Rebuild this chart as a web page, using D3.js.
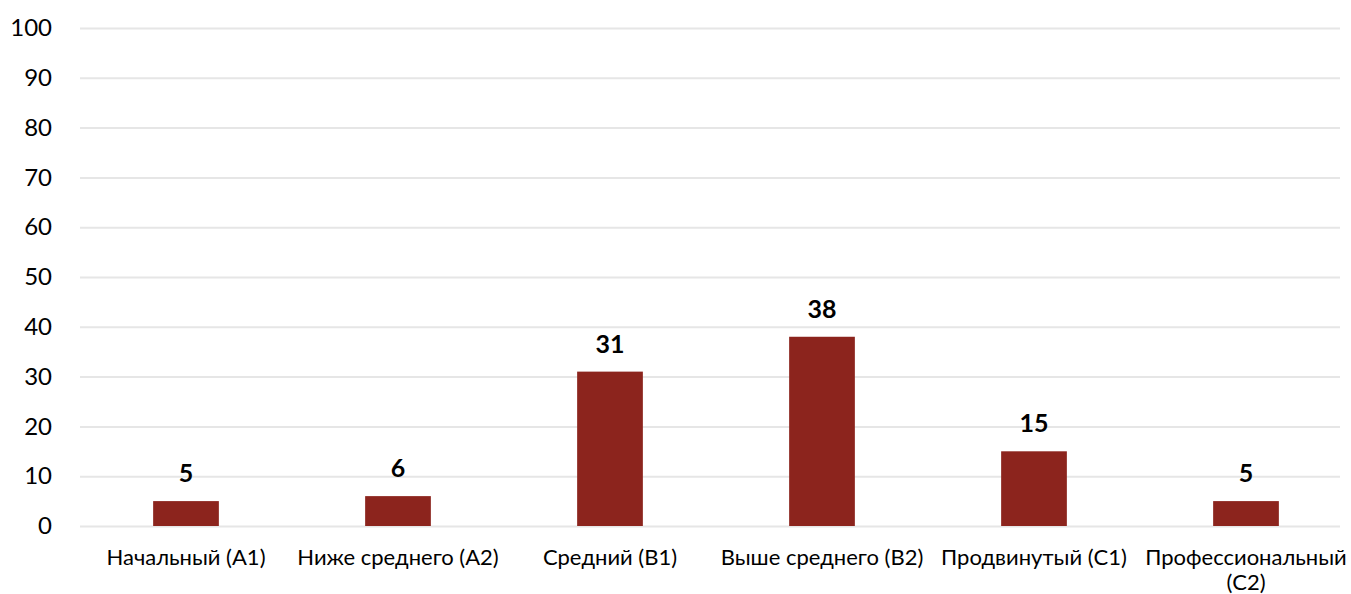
<!DOCTYPE html>
<html>
<head>
<meta charset="utf-8">
<script src="https://cdn.jsdelivr.net/npm/d3@7"></script>
<style>
  body { margin: 0; background: #fff; }
  svg { display: block; font-family: Lato, "Open Sans", sans-serif; }
</style>
</head>
<body>
<svg id="chart"></svg>
<script>
const categories = [
  ["Начальный (A1)"],
  ["Ниже среднего (A2)"],
  ["Средний (B1)"],
  ["Выше среднего (B2)"],
  ["Продвинутый (C1)"],
  ["Профессиональный", "(C2)"]
];
const values = [5, 6, 31, 38, 15, 5];
const yTicks = [0, 10, 20, 30, 40, 50, 60, 70, 80, 90, 100];

const w = 1351, h = 594;
const padL = 80, padR = 1352, padT = 28, padB = 526;

const svg = d3.select('#chart').attr('width', w).attr('height', h);

const keys = categories.map(d => d.join(' '));
const xScale = d3.scaleBand()
  .domain(keys)
  .range([padL, padR])
  .paddingInner(0.69)
  .paddingOuter(0.345);
const yScale = d3.scaleLinear().domain([0, 100]).range([padB, padT]);

// grid
const yAxis = d3.axisLeft(yScale).tickValues(yTicks).tickSize(-(1340 - padL)).tickPadding(28);
const gy = svg.append('g').attr('transform', `translate(${padL},0)`).call(yAxis);
gy.select('.domain').remove();
gy.selectAll('.tick line').attr('stroke', '#e6e6e6').attr('stroke-width', 2);
gy.selectAll('.tick text').attr('fill', '#000').style('font-size', '24px').style('font-family', 'Lato, sans-serif');

// bars
svg.selectAll('rect.bar')
  .data(values)
  .join('rect')
  .attr('class', 'bar')
  .attr('x', (d, i) => xScale(keys[i]))
  .attr('width', xScale.bandwidth())
  .attr('y', d => yScale(d))
  .attr('height', d => yScale(0) - yScale(d))
  .attr('fill', '#8c241d');

// value labels
svg.selectAll('text.val')
  .data(values)
  .join('text')
  .attr('class', 'val')
  .attr('x', (d, i) => xScale(keys[i]) + xScale.bandwidth() / 2)
  .attr('y', d => yScale(d) - 19)
  .attr('text-anchor', 'middle')
  .style('font-size', '25px')
  .style('font-weight', 'bold')
  .text(d => d);

// x axis labels
const xl = svg.selectAll('text.cat')
  .data(categories)
  .join('text')
  .attr('class', 'cat')
  .attr('x', (d, i) => xScale(keys[i]) + xScale.bandwidth() / 2)
  .attr('y', 565)
  .attr('text-anchor', 'middle')
  .style('font-size', '22px');
xl.selectAll('tspan')
  .data(d => d)
  .join('tspan')
  .attr('x', function() { return this.parentNode.getAttribute('x'); })
  .attr('dy', (d, i) => i ? 25 : 0)
  .text(d => d);
</script>
</body>
</html>
